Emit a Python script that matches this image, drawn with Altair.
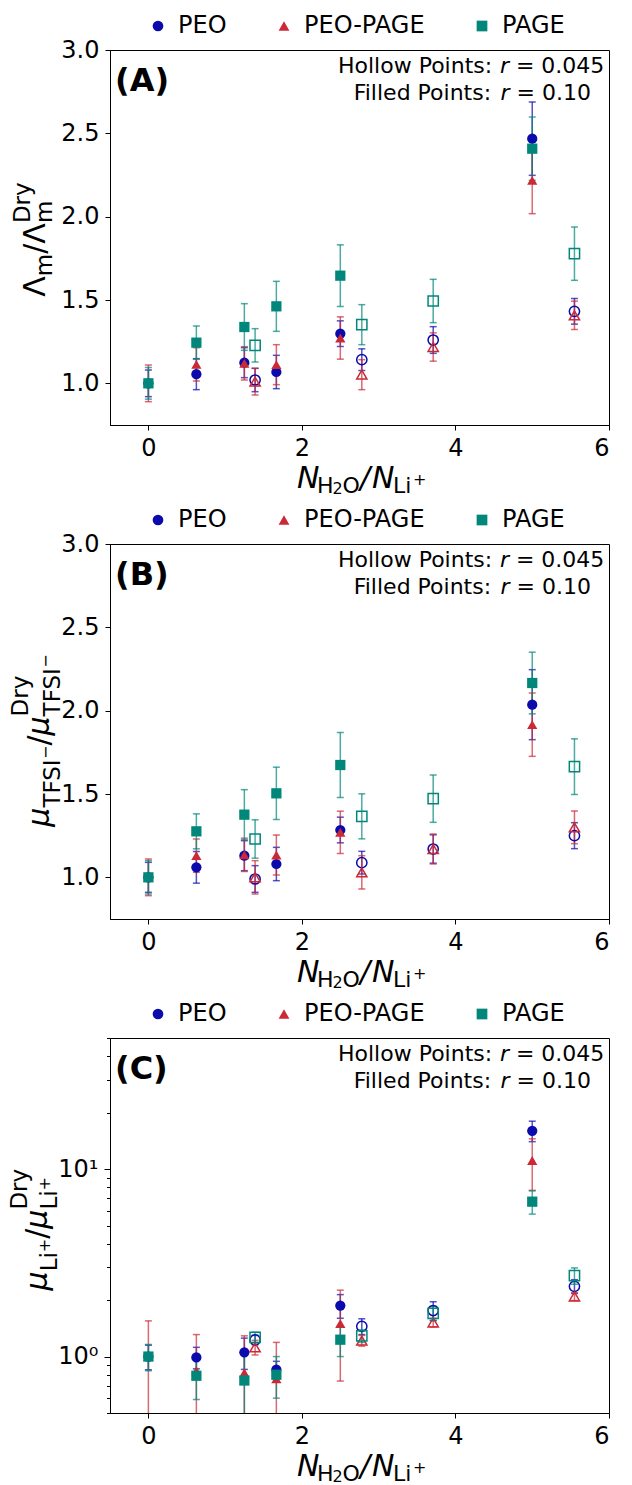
import altair as alt
import pandas as pd

# ---------------- data ----------------
series_names = ["PEO", "PEO-PAGE", "PAGE"]
colors = ["#0a0aad", "#cc2936", "#00877a"]
shapes = ["circle", "triangle-up", "square"]

x_filled = [0.0, 0.625, 1.25, 1.667, 2.5, 5.0]
x_hollow = [1.39, 2.78, 3.71, 5.55]

# Panel A : Lambda_m / Lambda_m^Dry
A_PEO_f = [1.0, 1.055, 1.124, 1.068, 1.298, 2.468]
A_PEO_f_err = [0.08, 0.093, 0.09, 0.1, 0.077, 0.22]
A_PEO_h = [1.02, 1.142, 1.26, 1.432]
A_PEO_h_err = [0.07, 0.065, 0.08, 0.077]
A_MIX_f = [1.0, 1.114, 1.12, 1.112, 1.272, 2.218]
A_MIX_f_err = [0.11, 0.1, 0.1, 0.12, 0.127, 0.2]
A_MIX_h = [1.01, 1.052, 1.218, 1.408]
A_MIX_h_err = [0.08, 0.09, 0.085, 0.085]
A_PAGE_f = [1.0, 1.244, 1.338, 1.462, 1.646, 2.408]
A_PAGE_f_err = [0.095, 0.1, 0.14, 0.15, 0.185, 0.19]
A_PAGE_h = [1.228, 1.352, 1.494, 1.778]
A_PAGE_h_err = [0.1, 0.12, 0.13, 0.16]

# Panel B : mu_TFSI / mu_TFSI^Dry
B_PEO_f = [1.0, 1.06, 1.13, 1.08, 1.284, 2.036]
B_PEO_f_err = [0.09, 0.095, 0.09, 0.1, 0.077, 0.21]
B_PEO_h = [0.99, 1.088, 1.17, 1.25]
B_PEO_h_err = [0.08, 0.068, 0.085, 0.078]
B_MIX_f = [1.0, 1.13, 1.135, 1.134, 1.27, 1.916]
B_MIX_f_err = [0.11, 0.1, 0.1, 0.12, 0.127, 0.19]
B_MIX_h = [1.0, 1.03, 1.17, 1.30]
B_MIX_h_err = [0.1, 0.1, 0.09, 0.098]
B_PAGE_f = [1.0, 1.276, 1.376, 1.504, 1.674, 2.166]
B_PAGE_f_err = [0.1, 0.105, 0.15, 0.157, 0.195, 0.185]
B_PAGE_h = [1.23, 1.366, 1.472, 1.664]
B_PAGE_h_err = [0.115, 0.135, 0.142, 0.167]

# Panel C : mu_Li / mu_Li^Dry (log)
C_PEO_f = [1.0, 0.99, 1.054, 0.853, 1.87, 16.0]
C_PEO_f_err = [0.15, 0.13, 0.2, 0.09, 0.27, 2.0]
C_PEO_h = [1.227, 1.45, 1.76, 2.37]
C_PEO_h_err = [0.07, 0.14, 0.2, 0.2]
C_MIX_f = [1.0, 0.84, 0.82, 0.76, 1.50, 11.1]
C_MIX_f_err = [0.55, 0.47, 0.47, 0.43, 0.76, 3.4]
C_MIX_h = [1.12, 1.217, 1.52, 2.09]
C_MIX_h_err = [0.1, 0.08, 0.08, 0.1]
C_PAGE_f = [1.0, 0.79, 0.745, 0.80, 1.23, 6.7]
C_PAGE_f_err = [0.16, 0.2, 0.3, 0.2, 0.23, 0.95]
C_PAGE_h = [1.267, 1.29, 1.70, 2.70]
C_PAGE_h_err = [0.08, 0.1, 0.15, 0.27]

FONT = "DejaVu Sans"
W, H = 499, 375
SUB = 23
SUBSUB = 16

# DejaVu Sans advance widths (units per em = 2048)
ADV = {'Λ': 1401, 'm': 1995, '/': 690, 'D': 1577, 'r': 842, 'y': 1212, 'T': 1251,
       'F': 1178, 'S': 1300, 'I': 604, '−': 1716, 'L': 1141, 'i': 569, '+': 1716,
       'μ': 1300}


def adv(s, size):
    return sum(ADV[c] for c in s) / 2048.0 * size


def build_df(pf, pfe, ph, phe, mf, mfe, mh, mhe, gf, gfe, gh, ghe):
    rows = []
    for name, f, fe, h, he in [("PEO", pf, pfe, ph, phe),
                               ("PEO-PAGE", mf, mfe, mh, mhe),
                               ("PAGE", gf, gfe, gh, ghe)]:
        for x, v, e in zip(x_filled, f, fe):
            rows.append(dict(series=name, kind="filled", x=x, v=v, lo=v - e, hi=v + e))
        for x, v, e in zip(x_hollow, h, he):
            rows.append(dict(series=name, kind="hollow", x=x, v=v, lo=v - e, hi=v + e))
    return pd.DataFrame(rows)


def txt(text, x, y, size, italic=False, bold=False, angle=0, align="left"):
    kw = dict(text=text, fontSize=size, font=FONT, color="black", align=align,
              baseline="alphabetic",
              fontStyle="italic" if italic else "normal",
              fontWeight="bold" if bold else "normal")
    if angle:
        kw["angle"] = angle
    return alt.Chart(alt.Data(values=[{"k": 1}])).mark_text(**kw).encode(
        x=alt.value(x), y=alt.value(y))


def ytitle(groups, center, xbase):
    """groups: list of lists of (text, size, italic, shift, offset_along)"""
    total = 0
    for g in groups:
        total += max(off + adv(t, s) for (t, s, it, sh, off) in g)
    start = center + total / 2.0
    layers = []
    pos = start
    for g in groups:
        for (t, s, it, sh, off) in g:
            layers.append(txt(t, xbase + sh, pos - off, s, italic=it, angle=270))
        pos -= max(off + adv(t, s) for (t, s, it, sh, off) in g)
    return layers


def xtitle():
    b = H + 62.5
    pieces = [("N", 187, b, 30, True), ("H", 207, b + 5, 22, False),
              ("2", 222.5, b + 6, SUBSUB, False), ("O", 232.5, b + 5, 22, False),
              ("/", 250, b, 30, True), ("N", 262, b, 30, True),
              ("Li", 283, b + 5, 22, False), ("+", 303, b - 3, SUBSUB, False)]
    return [txt(t, x, y, s, italic=it) for (t, x, y, s, it) in pieces]


def annotation(label):
    out = [txt(label, 5, 41, 32, bold=True)]
    out += [txt("Hollow Points:", 228, 23, 22), txt("r", 389.9, 23, 22, italic=True),
            txt("= 0.045", 405.9, 23, 22),
            txt("Filled Points:", 243.7, 50, 22), txt("r", 390.5, 50, 22, italic=True),
            txt("= 0.10", 406.5, 50, 22)]
    return out


def panel(df, label, log, ygroups, ycenter, ybase):
    xscale = alt.Scale(domain=[-0.5, 6], nice=False, zero=False)
    xaxis = alt.Axis(values=[0, 2, 4, 6], format="d", title=None, grid=False)
    if log:
        yscale = alt.Scale(type="log", domain=[0.5, 50], nice=False)
        yaxis = alt.Axis(values=[0.5, 0.6, 0.7, 0.8, 0.9, 1, 2, 3, 4, 5, 6, 7, 8, 9,
                                 10, 20, 30, 40, 50],
                         labelExpr="datum.value == 1 ? '10⁰' : (datum.value == 10 ? '10¹' : '')",
                         tickSize={"condition": {"test": "datum.value == 1 || datum.value == 10",
                                                 "value": 6}, "value": 3.5},
                         title=None, grid=False)
    else:
        yscale = alt.Scale(domain=[0.75, 3.0], nice=False, zero=False)
        yaxis = alt.Axis(values=[1.0, 1.5, 2.0, 2.5, 3.0], format=".1f", title=None,
                         grid=False)
    cscale = alt.Scale(domain=series_names, range=colors)
    sscale = alt.Scale(domain=series_names, range=shapes)
    leg = alt.Legend(orient="none", legendX=36, legendY=-36, direction="horizontal",
                     columns=3, title=None, labelFontSize=24, labelFont=FONT,
                     labelColor="black", symbolSize=115, labelOffset=8,
                     columnPadding=45, padding=0, symbolStrokeWidth=0,
                     labelLimit=300, symbolOpacity=1)

    layers = []
    # error bars, one layer per series (constant colours)
    for name, col in zip(series_names, colors):
        sub = df[df.series == name]
        layers.append(alt.Chart(sub).mark_errorbar(
            ticks=True, size=7, thickness=1.5, opacity=0.7, clip=True,
            color=col).encode(
            x=alt.X("x:Q", scale=xscale, axis=xaxis),
            y=alt.Y("lo:Q", scale=yscale, axis=yaxis),
            y2="hi:Q"))
    # filled points carry the legend
    layers.append(alt.Chart(df[df.kind == "filled"]).mark_point(
        filled=True, size=105, opacity=1, clip=True).encode(
        x=alt.X("x:Q", scale=xscale, axis=xaxis),
        y=alt.Y("v:Q", scale=yscale, axis=yaxis),
        color=alt.Color("series:N", scale=cscale, legend=leg),
        shape=alt.Shape("series:N", scale=sscale, legend=leg),
    ))
    # hollow points, one layer per series
    for name, col, shp in zip(series_names, colors, shapes):
        sub = df[(df.series == name) & (df.kind == "hollow")]
        layers.append(alt.Chart(sub).mark_point(
            filled=False, size=105, opacity=1, strokeWidth=1.5, clip=True,
            color=col, shape=shp).encode(
            x=alt.X("x:Q", scale=xscale, axis=xaxis),
            y=alt.Y("v:Q", scale=yscale, axis=yaxis)))
    layers += annotation(label) + xtitle() + ytitle(ygroups, ycenter, ybase)
    return alt.layer(*layers).properties(width=W, height=H)


dfA = build_df(A_PEO_f, A_PEO_f_err, A_PEO_h, A_PEO_h_err, A_MIX_f, A_MIX_f_err,
               A_MIX_h, A_MIX_h_err, A_PAGE_f, A_PAGE_f_err, A_PAGE_h, A_PAGE_h_err)
dfB = build_df(B_PEO_f, B_PEO_f_err, B_PEO_h, B_PEO_h_err, B_MIX_f, B_MIX_f_err,
               B_MIX_h, B_MIX_h_err, B_PAGE_f, B_PAGE_f_err, B_PAGE_h, B_PAGE_h_err)
dfC = build_df(C_PEO_f, C_PEO_f_err, C_PEO_h, C_PEO_h_err, C_MIX_f, C_MIX_f_err,
               C_MIX_h, C_MIX_h_err, C_PAGE_f, C_PAGE_f_err, C_PAGE_h, C_PAGE_h_err)

gA = [[("Λ", 30, False, 0, 0)], [("m", SUB, False, 6.7, 0)], [("/", 30, False, 0, 0)],
      [("Λ", 30, False, 0, 0)], [("m", SUB, False, 6.7, 0), ("Dry", SUB, False, -15, 0)]]
tfsi = adv("TFSI", SUB)
gB = [[("μ", 30, True, 0, 0)],
      [("TFSI", SUB, False, 11, 0), ("−", SUBSUB, False, 2, tfsi)],
      [("/", 30, False, 0, 0)],
      [("μ", 30, True, 0, 0)],
      [("TFSI", SUB, False, 11, 0), ("−", SUBSUB, False, 2, tfsi),
       ("Dry", SUB, False, -21, 0)]]
li = adv("Li", SUB)
gC = [[("μ", 30, True, 0, 0)],
      [("Li", SUB, False, 10, 0), ("+", SUBSUB, False, 2.5, li)],
      [("/", 30, False, 0, 0)],
      [("μ", 30, True, 0, 0)],
      [("Li", SUB, False, 10, 0), ("+", SUBSUB, False, 2.5, li),
       ("Dry", SUB, False, -20, 0)]]

pA = panel(dfA, "(A)", False, gA, 189.5, -65)
pB = panel(dfB, "(B)", False, gB, 196.5, -61)
pC = panel(dfC, "(C)", True, gC, 191.6, -63)

chart = alt.vconcat(pA, pB, pC, spacing=119, bounds="flush").resolve_scale(
    x="independent", y="independent", color="independent", shape="independent"
).resolve_legend(color="independent", shape="independent").configure_view(
    stroke="black", strokeWidth=1
).configure_axis(
    domainColor="black", tickColor="black", labelColor="black", labelFont=FONT,
    labelFontSize=24, tickSize=5, labelPadding=6, domainWidth=1, tickWidth=1
).properties(
    padding={"left": 8, "top": 13, "right": 5, "bottom": 5}, background="white"
)

chart.save("out.html", embed_options={"renderer": "svg", "actions": False})
